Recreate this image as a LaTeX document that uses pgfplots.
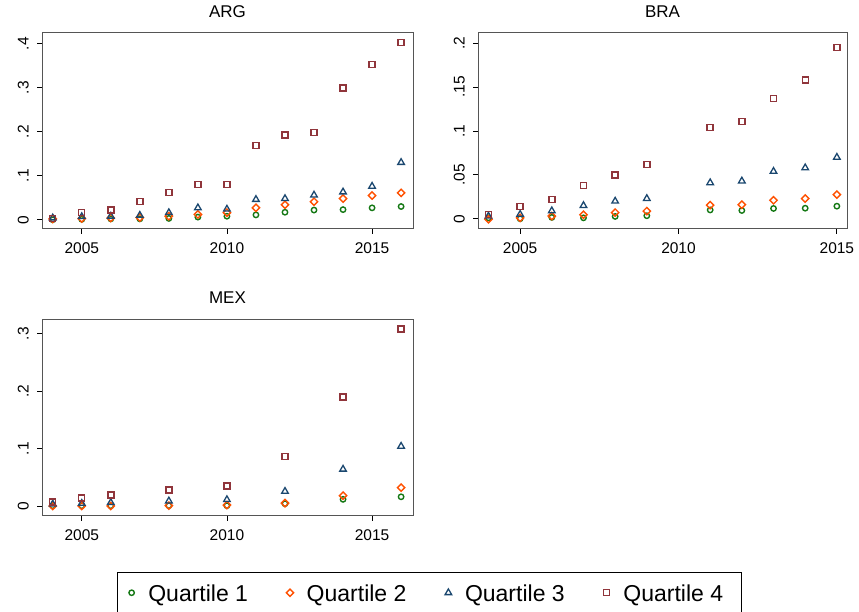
\documentclass[border=0pt]{standalone}
\usepackage{pgfplots}
\pgfplotsset{compat=1.18}
\usepackage{fontspec}
\setmainfont{Liberation Sans}
\usetikzlibrary{plotmarks}

\definecolor{qone}{RGB}{20,120,20}
\definecolor{qtwo}{RGB}{255,80,0}
\definecolor{qthree}{RGB}{26,71,111}
\definecolor{qfour}{RGB}{144,53,59}
\definecolor{frame}{RGB}{85,85,85}

\pgfplotsset{
  panel/.style={
    scale only axis,
    width=371pt, height=196pt,
    axis line style={frame, line width=1pt},
    tick style={black, line width=0.8pt},
    tick align=outside,
    major tick length=5pt,
    xtick pos=left, ytick pos=left,
    xtick={2005,2010,2015},
    xticklabels={2005,2010,2015},
    xticklabel style={anchor=base, yshift=-19.5pt, font=\fontsize{15.5}{15.5}\selectfont},
    yticklabel style={xshift=-8.5pt, rotate=90, anchor=base, font=\fontsize{15.5}{15.5}\selectfont},
    title style={at={(0.5,1)}, anchor=base, yshift=9.3pt, font=\fontsize{17}{17}\selectfont},
    clip=false,
    legend image code/.code={
      \path (-4pt,-8.35pt) (16pt,8.35pt);
      \draw[##1] plot coordinates {(0pt,0pt)};
    },
  },
  q1/.style={only marks, mark=o, mark size=2.7pt, color=qone, line width=1.4pt},
  q2/.style={only marks, mark=square, mark size=2.6pt, color=qtwo, line width=1.4pt, mark options={rotate=45}},
  q3/.style={only marks, mark=triangle, mark size=3.8pt, color=qthree, line width=1.3pt},
  q4/.style={only marks, mark=square, mark size=3pt, color=qfour, line width=1.4pt},
}

\begin{document}
\begin{tikzpicture}
\useasboundingbox (0,0) rectangle (859pt,612pt);

% ARG
\begin{axis}[panel, at={(42pt,383pt)}, anchor=south west,
  title={ARG},
  xmin=2003.63, xmax=2016.41, ymin=-0.021, ymax=0.424,
  ytick={0,0.1,0.2,0.3,0.4}, yticklabels={0,.1,.2,.3,.4}]
\addplot[q1] coordinates {(2004,0.000)(2005,0.001)(2006,0.002)(2007,0.002)(2008,0.003)(2009,0.006)(2010,0.008)(2011,0.011)(2012,0.017)(2013,0.022)(2014,0.023)(2015,0.027)(2016,0.030)};
\addplot[q2] coordinates {(2004,0.002)(2005,0.003)(2006,0.004)(2007,0.005)(2008,0.008)(2009,0.012)(2010,0.016)(2011,0.027)(2012,0.034)(2013,0.041)(2014,0.048)(2015,0.055)(2016,0.061)};
\addplot[q3] coordinates {(2004,0.004)(2005,0.007)(2006,0.008)(2007,0.010)(2008,0.016)(2009,0.027)(2010,0.024)(2011,0.046)(2012,0.048)(2013,0.056)(2014,0.063)(2015,0.076)(2016,0.130)};
\addplot[q4] coordinates {(2004,0.003)(2005,0.017)(2006,0.022)(2007,0.041)(2008,0.062)(2009,0.080)(2010,0.080)(2011,0.169)(2012,0.192)(2013,0.198)(2014,0.299)(2015,0.353)(2016,0.402)};
\end{axis}

% BRA
\begin{axis}[panel, at={(478pt,383pt)}, anchor=south west, width=369pt,
  title={BRA},
  xmin=2003.67, xmax=2015.32, ymin=-0.0117, ymax=0.2117,
  ytick={0,0.05,0.1,0.15,0.2}, yticklabels={0,.05,.1,.15,.2}]
\addplot[q1] coordinates {(2004,0.001)(2005,0.000)(2006,0.0015)(2007,0.001)(2008,0.0026)(2009,0.0034)(2011,0.010)(2012,0.0094)(2013,0.0117)(2014,0.012)(2015,0.0143)};
\addplot[q2] coordinates {(2004,-0.0005)(2005,0.001)(2006,0.003)(2007,0.0045)(2008,0.007)(2009,0.0087)(2011,0.0155)(2012,0.016)(2013,0.021)(2014,0.023)(2015,0.0275)};
\addplot[q3] coordinates {(2004,0.003)(2005,0.005)(2006,0.009)(2007,0.015)(2008,0.020)(2009,0.023)(2011,0.041)(2012,0.043)(2013,0.054)(2014,0.058)(2015,0.070)};
\addplot[q4] coordinates {(2004,0.005)(2005,0.0136)(2006,0.022)(2007,0.038)(2008,0.050)(2009,0.062)(2011,0.104)(2012,0.111)(2013,0.137)(2014,0.158)(2015,0.195)};
\end{axis}

% MEX
\begin{axis}[panel, at={(42pt,96pt)}, anchor=south west, height=196.7pt,
  title={MEX},
  xmin=2003.63, xmax=2016.41, ymin=-0.0174, ymax=0.325,
  ytick={0,0.1,0.2,0.3}, yticklabels={0,.1,.2,.3},
  legend columns=4,
  legend style={at={(0.2025,-0.2862)}, anchor=north west,
    draw=black, line width=0.8pt, fill=white,
    inner xsep=9.4pt, inner ysep=11pt,
    font=\fontsize{23}{23}\selectfont,
    nodes={inner sep=0pt, text height=16.7pt, text depth=0pt},
    /tikz/column sep=0pt},
  legend cell align=left]
\addplot[q1] coordinates {(2004,0.0005)(2005,0.0005)(2006,0.0005)(2008,0.0006)(2010,0.0006)(2012,0.004)(2014,0.0116)(2016,0.016)};
\addlegendentry{\makebox[137pt][l]{Quartile 1}}
\addplot[q2] coordinates {(2004,0)(2005,0)(2006,0)(2008,0.0006)(2010,0.0017)(2012,0.005)(2014,0.018)(2016,0.032)};
\addlegendentry{\makebox[137pt][l]{Quartile 2}}
\addplot[q3] coordinates {(2004,0.0035)(2005,0.0046)(2006,0.006)(2008,0.0087)(2010,0.011)(2012,0.0255)(2014,0.064)(2016,0.104)};
\addlegendentry{\makebox[137pt][l]{Quartile 3}}
\addplot[q4] coordinates {(2004,0.007)(2005,0.014)(2006,0.019)(2008,0.028)(2010,0.035)(2012,0.086)(2014,0.190)(2016,0.308)};
\addlegendentry{\makebox[108.6pt][l]{Quartile 4}}
\end{axis}
\end{tikzpicture}
\end{document}
